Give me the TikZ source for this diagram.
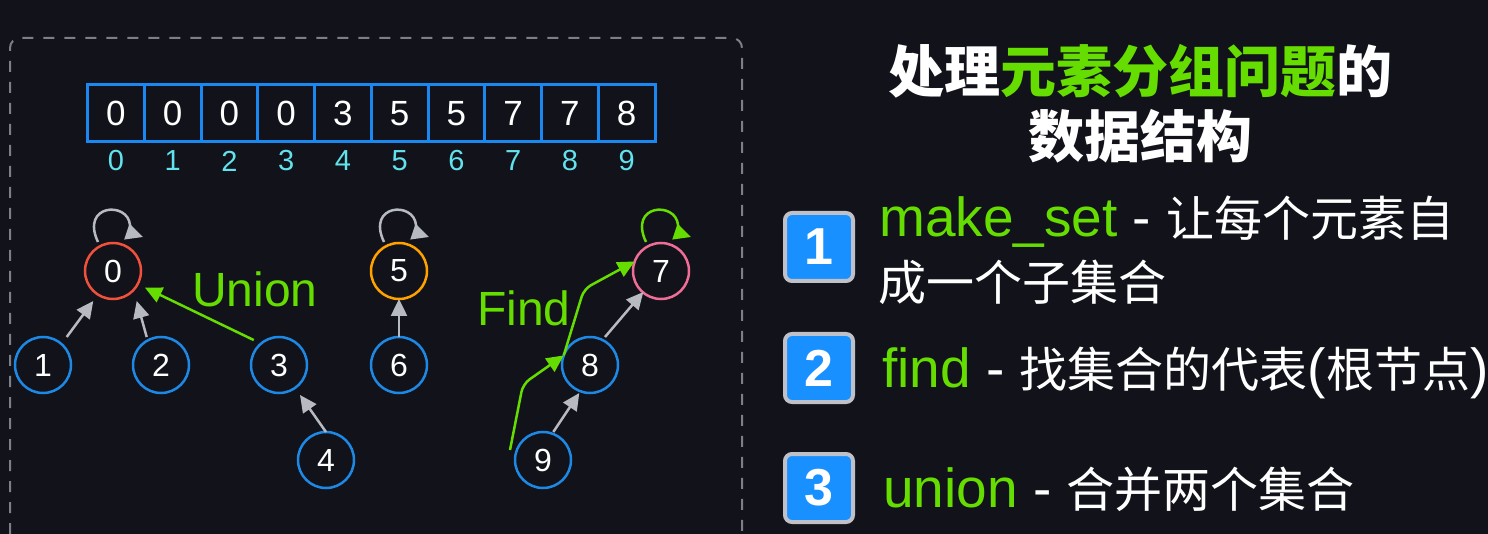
\documentclass[tikz,border=0pt]{standalone}
\usepackage{fontspec}
\setmainfont{Liberation Sans}
\newfontfamily\cjk{Noto Sans CJK SC}
\usetikzlibrary{arrows.meta}
\definecolor{bg}{RGB}{17,18,26}
\definecolor{cellblue}{RGB}{26,136,240}
\definecolor{nodeblue}{RGB}{30,136,229}
\definecolor{idxcyan}{RGB}{98,226,236}
\definecolor{rootred}{RGB}{240,80,60}
\definecolor{rootorange}{RGB}{255,162,0}
\definecolor{rootpink}{RGB}{240,110,150}
\definecolor{grn}{RGB}{102,221,0}
\definecolor{arrgray}{RGB}{184,186,194}
\definecolor{dashgray}{RGB}{125,127,135}
\definecolor{badgeblue}{RGB}{24,144,255}
\definecolor{badgegray}{RGB}{192,192,200}
\begin{document}
\begin{tikzpicture}[x=1pt,y=-1pt,
  cell/.style={draw=cellblue, line width=3pt, minimum width=56.75pt, minimum height=57pt, inner sep=0pt, text=white, font=\fontsize{35}{35}\selectfont},
  idx/.style={inner sep=0pt, text=idxcyan, font=\fontsize{29}{29}\selectfont},
  dnode/.style={circle, draw=nodeblue, fill=bg, line width=2.5pt, minimum size=56pt, inner sep=0pt, outer sep=0pt, text=white, font=\fontsize{32}{32}\selectfont},
  tip/.style={-{Triangle[length=17pt,width=16pt]}},
  garrow/.style={draw=arrgray, line width=2.5pt, tip},
  grarrow/.style={draw=grn, line width=2.5pt, tip},
  loopgray/.style={draw=arrgray, line width=2.5pt, tip},
  loopgreen/.style={draw=grn, line width=2.5pt, tip},
  lbl/.style={inner sep=0pt, text=grn, font=\fontsize{48}{48}\selectfont},
  badge/.style={draw=badgegray, fill=badgeblue, line width=4pt, rounded corners=7pt, minimum size=68pt, inner sep=0pt, text=white, font=\fontsize{52}{52}\selectfont\bfseries},
  item/.style={inner sep=0pt, anchor=base west, text=white, font=\fontsize{55}{60}\selectfont},
  cjktxt/.style={inner sep=0pt, anchor=base west, text=white, font=\cjk\fontsize{48}{48}\selectfont},
  title/.style={inner sep=0pt, text=white, font=\cjk\bfseries\fontsize{56}{56}\selectfont}
]
\fill[bg] (0,0) rectangle (1488,534);
\useasboundingbox (0,0) rectangle (1488,534);

% dashed panel
\draw[dashgray, line width=2pt, dash pattern=on 11pt off 10pt, rounded corners=10pt] (10,534) -- (10,38) -- (742,38) -- (742,534);

% array
\foreach \v [count=\i from 0] in {0,0,0,0,3,5,5,7,7,8} {
  \node[cell] (c\i) at (115.9+56.75*\i,113.5) {\v};
  \node[idx] (x\i) at (115.9+56.75*\i,161) {\i};
}

% tree nodes
\node[dnode, draw=rootred] (n0) at (113,271) {0};
\node[dnode] (n1) at (43,365) {1};
\node[dnode] (n2) at (161,365) {2};
\node[dnode] (n3) at (279,365) {3};
\node[dnode] (n4) at (326,460) {4};
\node[dnode, draw=rootorange] (n5) at (399,271) {5};
\node[dnode] (n6) at (399,365) {6};
\node[dnode, draw=rootpink] (n7) at (661,271) {7};
\node[dnode] (n8) at (590,365) {8};
\node[dnode] (n9) at (543,460) {9};

% parent arrows
\draw[garrow] ([xshift=23.7pt]n1.north) -- ([xshift=-19.7pt,yshift=-2pt]n0.south);
\draw[garrow] ([xshift=-14.3pt]n2.north) -- ([xshift=23.7pt,yshift=-2pt]n0.south);
\draw[garrow] (n4.north) -- ([xshift=21pt,yshift=-2pt]n3.south);
\draw[garrow] (n6.north) -- (n5.south);
\draw[garrow] ([xshift=15pt]n8.north) -- ([xshift=-17.7pt,yshift=7pt]n7.south);
\draw[garrow] ([xshift=10.3pt]n9.north) -- ([xshift=-10.7pt]n8.south);

% union arrow
\draw[grarrow, shorten <=8pt, shorten >=8pt] (n3.130) -- (n0.-28);
\node[lbl] (ul) at (255,289) {Union};

% self loops
\draw[loopgray] ([shift={(-15,-29)}]n0.center) .. controls +(-18,-38) and +(-2,-24) .. ([shift={(17,-46)}]n0.center) .. controls +(0,6) and +(-6,-2) .. ([shift={(30,-34)}]n0.center);
\draw[loopgray] ([shift={(-15,-29)}]n5.center) .. controls +(-18,-38) and +(-2,-24) .. ([shift={(17,-46)}]n5.center) .. controls +(0,6) and +(-6,-2) .. ([shift={(30,-34)}]n5.center);
\draw[loopgreen] ([shift={(-15,-29)}]n7.center) .. controls +(-18,-38) and +(-2,-24) .. ([shift={(17,-46)}]n7.center) .. controls +(0,6) and +(-6,-2) .. ([shift={(30,-34)}]n7.center);

% find path
\coordinate (f0) at (510,450);
\coordinate (fb1) at (523,384);
\coordinate (fb2) at (584,289);
\draw[grarrow, rounded corners=8pt] (f0) -- (fb1) -- (n8.160);
\draw[grarrow, rounded corners=8pt] (n8.160) -- (fb2) -- (n7.160);
\node[lbl] (fl) at (524,308) {Find};

% title
\node[title] (t1) at (1140,71) {处理\textcolor{grn}{元素分组问题}的};
\node[title] (t2) at (1140,136) {数据结构};

% badges
\node[badge] (b1) at (819,247) {1};
\node[badge] (b2) at (819,368) {2};
\node[badge] (b3) at (819,488) {3};

% items
\node[item] (i1) at (879,237) {\textcolor{grn}{make\_set} - {\cjk\fontsize{48}{48}\selectfont 让每个元素自}};
\node[cjktxt] (i1b) at (878,301) {成一个子集合};
\node[item] (i2) at (882,387) {\textcolor{grn}{find} - {\cjk\fontsize{48}{48}\selectfont 找集合的代表}({\cjk\fontsize{48}{48}\selectfont 根节点})};
\node[item] (i3) at (883,507) {\textcolor{grn}{union} - {\cjk\fontsize{48}{48}\selectfont 合并两个集合}};
\end{tikzpicture}
\end{document}
